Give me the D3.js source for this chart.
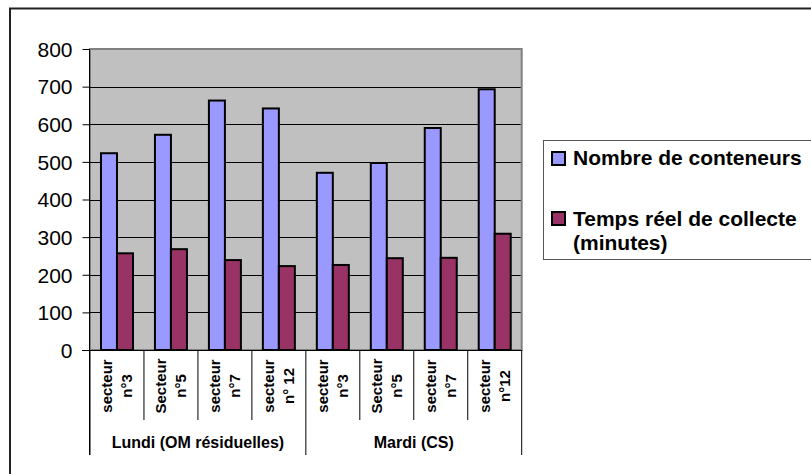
<!DOCTYPE html>
<html><head><meta charset="utf-8">
<script src="https://cdn.jsdelivr.net/npm/d3@7"></script>
<style>body{margin:0;background:#fff}svg{display:block;font-family:"Liberation Sans",Arial,sans-serif}</style>
</head><body>
<svg id="c" width="811" height="474"></svg>
<script>
const categories = [["secteur","n°3"],["Secteur","n°5"],["secteur","n°7"],["secteur","n° 12"],
                    ["secteur","n°3"],["Secteur","n°5"],["secteur","n°7"],["secteur","n°12"]];
const groups = ["Lundi (OM résiduelles)","Mardi (CS)"];
const groupOf = [0,0,0,0,1,1,1,1];
const seriesNames = ["Nombre de conteneurs","Temps réel de collecte (minutes)"];
const conteneurs = [523, 572, 663, 642, 471, 497, 590, 693];
const temps = [257, 268, 239, 223, 226, 244, 245, 309];
const yTicks = [0,100,200,300,400,500,600,700,800];
const colors = ["#9999FF","#993366"];

const svg = d3.select("#c");
// outer chart border
svg.append("rect").attr("x",10).attr("y",8.5).attr("width",900).attr("height",600)
  .attr("fill","#fff").attr("stroke","#222").attr("stroke-width",2);

const L=90, R=521.7, T=49, B=350;
const y = d3.scaleLinear().domain([0,800]).range([B,T]);
const x = d3.scaleBand().domain(d3.range(categories.length)).range([L,R]).padding(0);
const bw = 16;

svg.append("rect").attr("x",L).attr("y",T).attr("width",R-L).attr("height",B-T)
  .attr("fill","#C0C0C0").attr("stroke","#808080").attr("stroke-width",2);
// gridlines
svg.append("g").selectAll("line").data(yTicks.filter(v=>v>0&&v<800)).join("line")
  .attr("x1",L).attr("x2",R-1).attr("y1",d=>Math.round(y(d))+0.5).attr("y2",d=>Math.round(y(d))+0.5)
  .attr("stroke","#000").attr("stroke-width",1);

// y axis
const yAxis = d3.axisLeft(y).tickValues(yTicks).tickSize(7).tickPadding(10).tickFormat(d3.format("d"));
const ga = svg.append("g").attr("transform",`translate(${L-0.5},0)`).call(yAxis);
ga.select(".domain").remove();
ga.selectAll(".tick line").attr("stroke","#000");
ga.selectAll(".tick text").attr("font-size",21).attr("fill","#000").attr("font-family","Liberation Sans, Arial, sans-serif").attr("dy","0.35em");
svg.append("line").attr("x1",L-0.5).attr("x2",L-0.5).attr("y1",T).attr("y2",455).attr("stroke","#000");

// bars
const gb = svg.append("g");
gb.selectAll("rect.a").data(conteneurs).join("rect").attr("class","a")
  .attr("x",(d,i)=>x(i)+x.bandwidth()/2-bw).attr("width",bw)
  .attr("y",d=>y(d)).attr("height",d=>B-y(d))
  .attr("fill",colors[0]).attr("stroke","#000").attr("stroke-width",2);
gb.selectAll("rect.b").data(temps).join("rect").attr("class","b")
  .attr("x",(d,i)=>x(i)+x.bandwidth()/2).attr("width",bw)
  .attr("y",d=>y(d)).attr("height",d=>B-y(d))
  .attr("fill",colors[1]).attr("stroke","#000").attr("stroke-width",2);

// category axis line
svg.append("line").attr("x1",L-8).attr("x2",R).attr("y1",B+0.5).attr("y2",B+0.5).attr("stroke","#000");
// separators
const bounds = d3.range(categories.length+1).map(i=> i<categories.length ? x(i) : R);
svg.append("g").selectAll("line").data(bounds).join("line")
  .attr("x1",d=>d).attr("x2",d=>d).attr("y1",B)
  .attr("y2",(d,i)=> (i%4===0)?455:420)
  .attr("stroke","#000").attr("stroke-width",1);

// category labels
const gl = svg.append("g");
categories.forEach((c,i)=>{
  const cx = x(i)+x.bandwidth()/2;
  const t = gl.append("text").attr("transform",`translate(${cx},386) rotate(-90)`)
    .attr("text-anchor","middle").attr("font-size",15).attr("font-weight","bold").attr("fill","#000");
  t.append("tspan").attr("x",0).attr("y",-5).text(c[0]);
  t.append("tspan").attr("x",0).attr("y",15).text(c[1]);
});
// group labels
groups.forEach((g,gi)=>{
  const idx = d3.range(categories.length).filter(i=>groupOf[i]===gi);
  const x0 = x(idx[0]), x1 = x(idx[idx.length-1])+x.bandwidth();
  svg.append("text").attr("x",(x0+x1)/2).attr("y",448).attr("text-anchor","middle")
    .attr("font-size",16).attr("font-weight","bold").attr("fill","#000").text(g);
});

// legend
svg.append("rect").attr("x",543.5).attr("y",140.5).attr("width",400).attr("height",119)
  .attr("fill","#fff").attr("stroke","#555").attr("stroke-width",1);
const legY = [152, 212];
seriesNames.forEach((n,i)=>{
  svg.append("rect").attr("x",552).attr("y",legY[i]).attr("width",13).attr("height",13)
    .attr("fill",colors[i]).attr("stroke","#000").attr("stroke-width",2);
});
svg.append("text").attr("x",573).attr("y",165).attr("font-size",21).attr("font-weight","bold").text(seriesNames[0]);
const t2 = svg.append("text").attr("font-size",21).attr("font-weight","bold");
t2.append("tspan").attr("x",573).attr("y",226).text("Temps réel de collecte");
t2.append("tspan").attr("x",573).attr("y",250).text("(minutes)");
</script>
</body></html>
